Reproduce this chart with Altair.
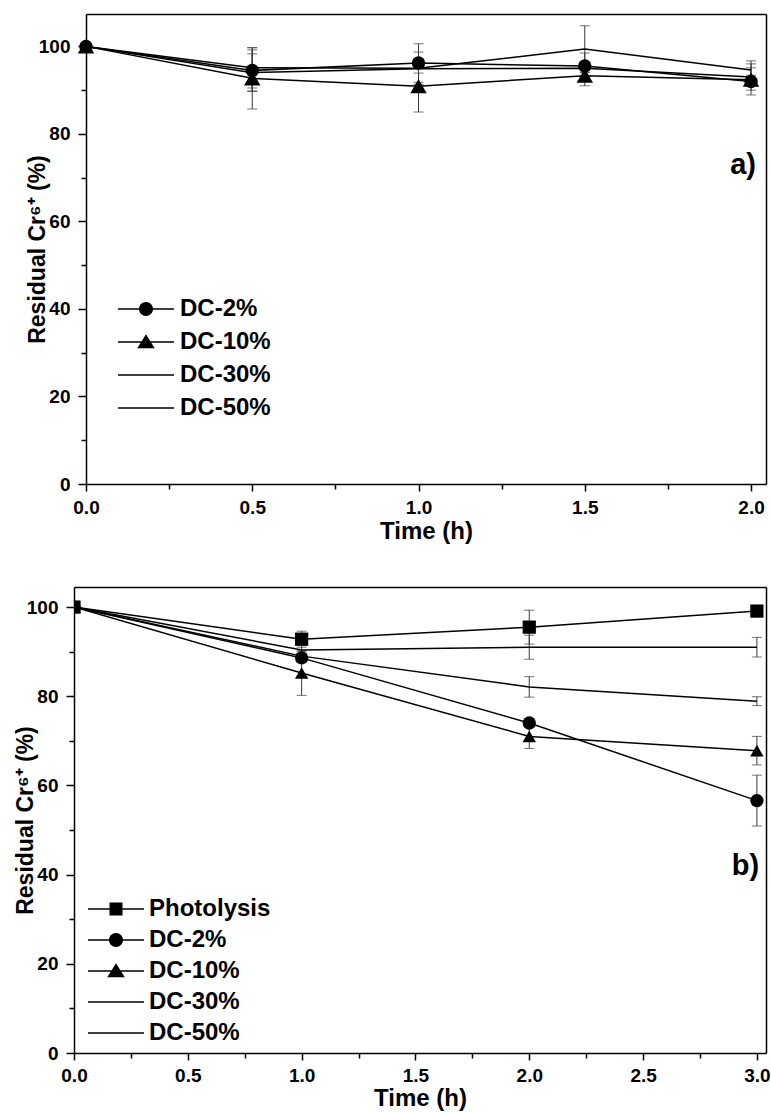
import altair as alt
import pandas as pd

# ---------------- data ----------------
time_a = [0.0, 0.5, 1.0, 1.5, 2.0]
series_a = ["DC-2%", "DC-10%", "DC-30%", "DC-50%"]
a_dc2 = [100.0, 94.5, 96.2, 95.5, 92.0]
a_dc2_err = [0.0, 4.7, 4.4, 3.0, 3.1]
a_dc10 = [100.0, 92.7, 90.9, 93.3, 92.4]
a_dc10_err = [0.0, 7.0, 5.9, 2.3, 1.0]
a_dc30 = [100.0, 95.1, 95.0, 99.4, 94.6]
a_dc30_err = [0.0, 4.6, 3.7, 5.3, 2.1]
a_dc50 = [100.0, 94.0, 94.9, 95.0, 93.0]
a_dc50_err = [0.0, 4.3, 1.0, 1.0, 3.0]

time_b = [0.0, 1.0, 2.0, 3.0]
series_b = ["Photolysis", "DC-2%", "DC-10%", "DC-30%", "DC-50%"]
b_photo = [100.0, 92.8, 95.5, 99.1]
b_photo_err = [0.0, 1.8, 3.8, 0.5]
b_dc2 = [100.0, 88.6, 74.0, 56.6]
b_dc2_err = [0.0, 1.0, 1.0, 5.7]
b_dc10 = [100.0, 85.2, 71.0, 67.8]
b_dc10_err = [0.0, 5.0, 2.7, 3.2]
b_dc30 = [100.0, 90.4, 91.0, 91.0]
b_dc30_err = [0.0, 1.0, 2.7, 2.2]
b_dc50 = [100.0, 89.0, 82.1, 78.9]
b_dc50_err = [0.0, 1.0, 2.3, 1.0]

x_ticks_a = [0.0, 0.25, 0.5, 0.75, 1.0, 1.25, 1.5, 1.75, 2.0]
x_ticks_b = [0.0, 0.25, 0.5, 0.75, 1.0, 1.25, 1.5, 1.75, 2.0, 2.25, 2.5, 2.75, 3.0]
y_ticks = [0, 10, 20, 30, 40, 50, 60, 70, 80, 90, 100]

tag_a = {"text": ["a)"], "time": [2.015], "value": [73.0]}
tag_b = {"text": ["b)"], "time": [3.01], "value": [42.0]}

y_title = "Residual Cr\u2076\u207a (%)"
x_title = "Time (h)"
FONT = "Liberation Sans"

# marker styles
marker_shape = {"Photolysis": "square", "DC-2%": "circle", "DC-10%": "triangle-up"}
marker_size = {"Photolysis": 175, "DC-2%": 180, "DC-10%": 270}
SEG = "M-4,-0.1H4V0.1H-4Z"
legend_path = {
    "Photolysis": SEG + "M-0.93,-0.93H0.93V0.93H-0.93Z",
    "DC-2%": SEG + "M1,0A1,1 0 1,1 -1,0A1,1 0 1,1 1,0Z",
    "DC-10%": SEG + "M0,-1.1L1.25,0.9L-1.25,0.9Z",
    "DC-30%": SEG,
    "DC-50%": SEG,
}


def make_df(times, names, values, errs):
    rows = []
    for n, v, e in zip(names, values, errs):
        for t, vv, ee in zip(times, v, e):
            rows.append({"time": t, "value": vv, "err": ee, "series": n,
                         "lseries": n, "lo": vv - ee, "hi": vv + ee})
    return pd.DataFrame(rows)


df_a = make_df(time_a, series_a, [a_dc2, a_dc10, a_dc30, a_dc50],
               [a_dc2_err, a_dc10_err, a_dc30_err, a_dc50_err])
df_b = make_df(time_b, series_b, [b_photo, b_dc2, b_dc10, b_dc30, b_dc50],
               [b_photo_err, b_dc2_err, b_dc10_err, b_dc30_err, b_dc50_err])


def panel(df, names, xmax, ymax, xticks, width, height, x_off, legend_x, legend_y,
          row_pad, label_offset, tag, label_pad, title_pad):
    xaxis = alt.Axis(
        values=xticks, format=".1f", title=x_title,
        labelExpr="round(datum.value*100) % 50 === 0 ? datum.label : ''",
        tickSize={"condition": {"test": "round(datum.value*100) % 50 === 0", "value": 7}, "value": 5},
        labelFlush=False, labelOverlap=False, grid=False,
        labelPadding=label_pad, titlePadding=title_pad,
    )
    yaxis = alt.Axis(
        values=y_ticks, title=y_title,
        labelExpr="datum.value % 20 === 0 ? datum.label : ''",
        tickSize={"condition": {"test": "datum.value % 20 === 0", "value": 8}, "value": 5},
        labelOverlap=False, grid=False, labelPadding=8, titleX=-37, offset=-x_off,
    )
    top_axis = alt.Axis(orient="top", labels=False, ticks=False, title=None, grid=False, domain=True)
    right_axis = alt.Axis(orient="right", labels=False, ticks=False, title=None, grid=False, domain=True)

    xscale = alt.Scale(domain=[0, xmax], range=[x_off, width], nice=False, zero=False)
    yscale = alt.Scale(domain=[0, ymax], nice=False, zero=False)
    xn = alt.X("time:Q", axis=None)

    def yn(f):
        return alt.Y(f, axis=None)

    base = alt.Chart(df)
    errdf = df[df["err"] > 0]
    ebase = alt.Chart(errdf)
    err_rule = ebase.mark_rule(color="#3a3a3a", strokeWidth=1, clip=True).encode(
        x=xn, y=yn("lo:Q"), y2="hi:Q")
    cap_lo = ebase.mark_tick(orient="horizontal", size=10, thickness=1, color="#3a3a3a", clip=True).encode(
        x=xn, y=yn("lo:Q"))
    cap_hi = ebase.mark_tick(orient="horizontal", size=10, thickness=1, color="#3a3a3a", clip=True).encode(
        x=xn, y=yn("hi:Q"))
    lines = base.mark_line(color="black", strokeWidth=1.5, clip=True).encode(
        x=alt.X("time:Q", scale=xscale, axis=xaxis),
        y=alt.Y("value:Q", scale=yscale, axis=yaxis),
        detail="series:N")
    frame = base.mark_point(opacity=0).encode(
        x=alt.X("time:Q", axis=top_axis),
        y=alt.Y("value:Q", axis=right_axis))
    mk_names = [n for n in names if n in marker_shape]
    pts = base.transform_filter(
        alt.FieldOneOfPredicate(field="series", oneOf=mk_names)
    ).mark_point(filled=True, opacity=1, color="black", clip=True).encode(
        x=xn, y=yn("value:Q"),
        shape=alt.Shape("series:N", scale=alt.Scale(domain=mk_names, range=[marker_shape[n] for n in mk_names]), legend=None),
        size=alt.Size("series:N", scale=alt.Scale(domain=mk_names, range=[marker_size[n] for n in mk_names]), legend=None),
    )
    leg = base.transform_filter("datum.time < -1").mark_point(
        filled=True, color="black", size=196
    ).encode(
        x=xn, y=yn("value:Q"),
        shape=alt.Shape("lseries:N",
                        scale=alt.Scale(domain=names, range=[legend_path[n] for n in names]),
                        legend=alt.Legend(
                            title=None, orient="none", legendX=legend_x, legendY=legend_y,
                            labelFont=FONT, labelFontSize=24, labelFontWeight="bold", labelColor="black",
                            labelLimit=400, symbolSize=196, rowPadding=row_pad, labelOffset=label_offset,
                            padding=0, symbolFillColor="black", symbolOpacity=1, symbolStrokeWidth=0,
                        )),
    )
    tag_chart = alt.Chart(pd.DataFrame(tag)).mark_text(
        align="right", baseline="middle", font=FONT, fontSize=29, fontWeight="bold", color="black"
    ).encode(x=xn, y=yn("value:Q"), text="text:N")

    return alt.layer(err_rule, cap_lo, cap_hi, lines, frame, pts, leg, tag_chart).resolve_scale(
        shape="independent", size="independent"
    ).resolve_axis(x="independent", y="independent").properties(width=width, height=height)


chart_a = panel(df_a, series_a, 2.045, 107.4, x_ticks_a, 692, 470, x_off=12,
                legend_x=60, legend_y=283, row_pad=9, label_offset=22, tag=tag_a,
                label_pad=7, title_pad=2)
chart_b = panel(df_b, series_b, 3.04, 104.5, x_ticks_b, 692, 466, x_off=0,
                legend_x=30, legend_y=310, row_pad=7, label_offset=21, tag=tag_b,
                label_pad=6, title_pad=1)

chart = alt.vconcat(chart_a, chart_b, spacing=42).resolve_scale(
    shape="independent", size="independent"
).resolve_legend(shape="independent").properties(
    padding={"left": 13, "top": 13, "right": 0, "bottom": 0},
    background="white",
).configure_view(
    stroke="transparent"
).configure_axis(
    labelFont=FONT, labelFontSize=19, labelFontWeight="bold", labelColor="black",
    titleFont=FONT, titleFontSize=23, titleFontWeight="bold", titleColor="black",
    domainColor="black", domainWidth=1.5, tickWidth=1.5, tickColor="black",
).configure_axisX(titleFontSize=24)

chart.save("out.html", embed_options={"renderer": "svg", "actions": False})
